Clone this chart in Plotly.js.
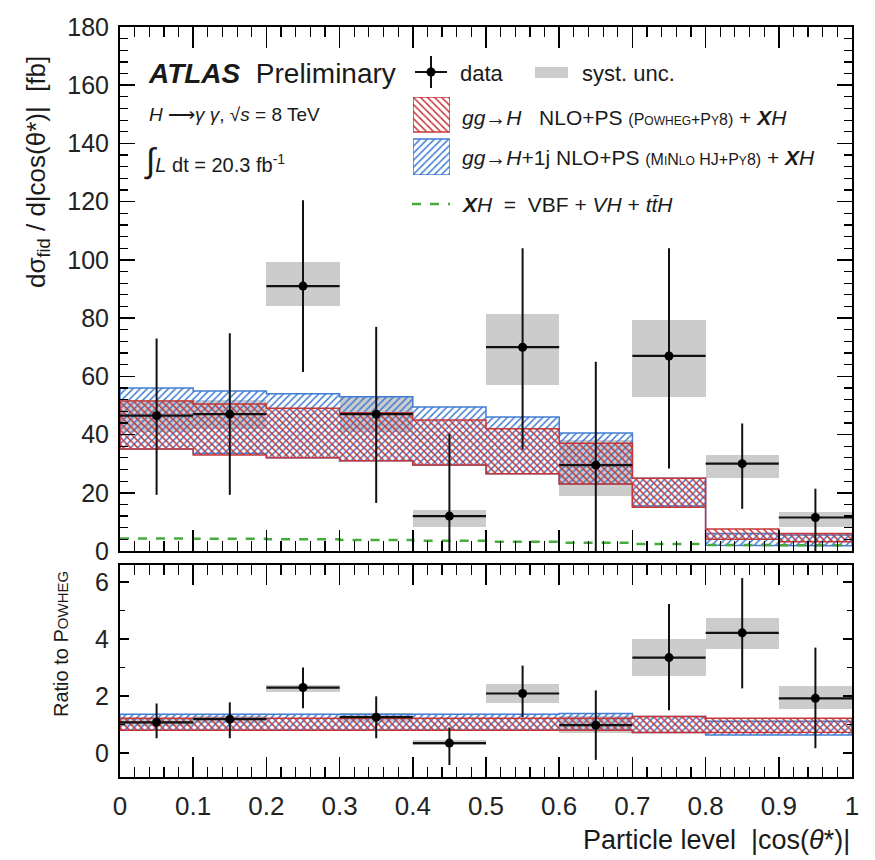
<!DOCTYPE html>
<html><head><meta charset="utf-8">
<script src="https://cdn.plot.ly/plotly-3.0.1.min.js"></script>
<style>html,body{margin:0;padding:0;background:#fff}#chart{width:875px;height:860px}</style>
</head><body><div id="chart"></div>
<script>
// ---------------- data ----------------
const binEdges   = [0, 0.1, 0.2, 0.3, 0.4, 0.5, 0.6, 0.7, 0.8, 0.9, 1.0];
const binCenters = [0.05, 0.15, 0.25, 0.35, 0.45, 0.55, 0.65, 0.75, 0.85, 0.95];
const binHalfWidth = 0.05;

// top panel: dsigma/d|cos(theta*)| [fb]
const dataVal = [46.5, 47, 91, 47, 12, 70, 29.5, 67, 30, 11.5];
const dataHi  = [73, 74.8, 120.5, 77, 40.3, 104, 65, 104, 43.8, 21.4];
const dataLo  = [19.3, 19.3, 61.5, 16.5, 0, 34.8, 0, 28.3, 14.5, 0];
const systLo  = [41, 42, 84.2, 41, 8.3, 57, 19, 53, 25, 8.3];
const systHi  = [52, 52, 99.3, 53, 14, 81.5, 38, 79.5, 33, 13.5];

const powhegHi = [51.5, 50.5, 49, 47.5, 45, 42, 37, 25, 7.6, 6];
const powhegLo = [35, 33, 32, 31, 29.5, 26.5, 23, 15, 4, 3.2];
const minloHi  = [56, 55, 54, 53, 49.5, 46, 40.5, 25, 6, 5.5];
const minloLo  = [35, 33.5, 32, 31, 29.5, 26.5, 23, 15.5, 2, 1.8];
const xhVal    = [4.3, 4.2, 4.0, 3.8, 3.5, 3.2, 2.8, 2.4, 2.1, 2.0];

// ratio panel
const ratioVal    = [1.08, 1.19, 2.3, 1.26, 0.35, 2.09, 0.98, 3.35, 4.22, 1.92];
const ratioHi     = [1.74, 1.78, 3.0, 1.99, 0.9, 3.07, 2.2, 5.23, 6.14, 3.7];
const ratioLo     = [0.52, 0.52, 1.57, 0.52, -0.42, 1.26, -0.24, 1.5, 2.27, 0.17];
const ratioSystLo = [0.95, 1.05, 2.15, 1.1, 0.28, 1.74, 0.7, 2.72, 3.66, 1.53];
const ratioSystHi = [1.2, 1.3, 2.4, 1.4, 0.45, 2.44, 1.3, 4.0, 4.74, 2.34];
const ratioPowhegHi = [1.22, 1.22, 1.22, 1.22, 1.22, 1.22, 1.22, 1.28, 1.22, 1.22];
const ratioPowhegLo = [0.8, 0.8, 0.8, 0.8, 0.8, 0.8, 0.8, 0.72, 0.73, 0.73];
const ratioMinloHi  = [1.36, 1.36, 1.36, 1.36, 1.36, 1.36, 1.39, 1.28, 1.12, 1.12];
const ratioMinloLo  = [0.8, 0.8, 0.8, 0.8, 0.8, 0.8, 0.8, 0.72, 0.63, 0.63];

// ---------------- styles ----------------
const RED = 'rgb(200,55,55)';
const BLUE = 'rgb(65,125,210)';
const GREEN = 'rgb(70,170,60)';
const GREY = 'rgb(204,204,204)';
const FONT = 'Liberation Sans, Arial, Helvetica, sans-serif';

function stepPolygon(hi, lo) {
  const xs = [], ys = [];
  for (let i = 0; i < hi.length; i++) { xs.push(binEdges[i], binEdges[i+1]); ys.push(hi[i], hi[i]); }
  for (let i = lo.length - 1; i >= 0; i--) { xs.push(binEdges[i+1], binEdges[i]); ys.push(lo[i], lo[i]); }
  xs.push(xs[0]); ys.push(ys[0]);
  return {x: xs, y: ys};
}
function bandTrace(hi, lo, color, shape, xa, ya, name) {
  const p = stepPolygon(hi, lo);
  return {type:'scatter', mode:'lines', x:p.x, y:p.y, xaxis:xa, yaxis:ya, name:name,
    fill:'toself', fillcolor:'rgba(0,0,0,0)',
    fillpattern:{shape:shape, fgcolor:color, bgcolor:'rgba(0,0,0,0)', size:5, solidity:0.3},
    line:{color:color, width:1.5}, hoverinfo:'skip', showlegend:false};
}
function systTrace(lo, hi, xa, ya) {
  return {type:'bar', x:binCenters, base:lo, y:hi.map((h,i)=>h-lo[i]), width:binCenters.map(()=>2*binHalfWidth),
    xaxis:xa, yaxis:ya, marker:{color:GREY, line:{width:0}}, showlegend:false, hoverinfo:'skip'};
}
function dataTrace(val, hi, lo, xa, ya) {
  return {type:'scatter', mode:'markers', x:binCenters, y:val, xaxis:xa, yaxis:ya,
    marker:{color:'#000', size:9},
    error_y:{type:'data', symmetric:false, array:hi.map((h,i)=>h-val[i]), arrayminus:val.map((v,i)=>v-lo[i]), width:0, thickness:2, color:'#111'},
    error_x:{type:'constant', value:binHalfWidth, width:0, thickness:2.2, color:'#111'},
    showlegend:false, hoverinfo:'skip'};
}

const xhLine = {type:'scatter', mode:'lines', x:binEdges, y:xhVal.concat([xhVal[xhVal.length-1]]),
  line:{shape:'hv', color:GREEN, width:2.5, dash:'dash'}, xaxis:'x', yaxis:'y', showlegend:false, hoverinfo:'skip'};

// legend swatches (drawn in a hidden helper axis so the hatch patterns match the bands)
const swatchBoxes = {redY:[0.55, 1.0], blueY:[0.0, 0.46]};
function swatch(yr, color, shape) {
  return {type:'scatter', mode:'lines', x:[0,1,1,0,0], y:[yr[0],yr[0],yr[1],yr[1],yr[0]], xaxis:'x3', yaxis:'y3',
    fill:'toself', fillcolor:'rgba(0,0,0,0)',
    fillpattern:{shape:shape, fgcolor:color, bgcolor:'rgba(0,0,0,0)', size:5, solidity:0.3},
    line:{color:color, width:1.5}, showlegend:false, hoverinfo:'skip'};
}

const traces = [
  systTrace(systLo, systHi, 'x', 'y'),
  systTrace(ratioSystLo, ratioSystHi, 'x2', 'y2'),
  bandTrace(minloHi, minloLo, BLUE, '/', 'x', 'y', 'MiNLO'),
  bandTrace(powhegHi, powhegLo, RED, '\\', 'x', 'y', 'Powheg'),
  xhLine,
  bandTrace(ratioMinloHi, ratioMinloLo, BLUE, '/', 'x2', 'y2', 'MiNLO ratio'),
  bandTrace(ratioPowhegHi, ratioPowhegLo, RED, '\\', 'x2', 'y2', 'Powheg ratio'),
  dataTrace(dataVal, dataHi, dataLo, 'x', 'y'),
  dataTrace(ratioVal, ratioHi, ratioLo, 'x2', 'y2'),
  swatch(swatchBoxes.redY, RED, '\\'),
  swatch(swatchBoxes.blueY, BLUE, '/')
];

// ---------------- layout ----------------
const L = 120, R = 852, T = 27, B = 777, W = 875, H = 860;
const px = x => (x - L) / (R - L);
const py = y => (B - y) / (B - T);

function axisBase(fs) {
  return {showline:true, linewidth:2, linecolor:'#000', mirror:'allticks', ticks:'inside', tickwidth:1.5,
    tickcolor:'#000', showgrid:false, zeroline:false, fixedrange:true,
    tickfont:{family:FONT, size:fs, color:'#222'}};
}
const xaxis = Object.assign(axisBase(24), {domain:[0,1], range:[0,1], anchor:'y', dtick:0.1, tick0:0, ticklen:21,
  showticklabels:false, minor:{dtick:0.02, ticklen:10, tickwidth:1.2, tickcolor:'#000', ticks:'inside'}});
const yaxis = Object.assign(axisBase(25), {domain:[py(551),1], range:[0,180], anchor:'x', dtick:20, tick0:0, ticklen:15,
  ticklabelstandoff:4, minor:{dtick:4, ticklen:8, tickwidth:1.2, tickcolor:'#000', ticks:'inside'}});
const xaxis2 = Object.assign(axisBase(26), {domain:[0,1], range:[0,1], anchor:'y2', dtick:0.1, tick0:0, ticklen:20,
  ticklabelstandoff:5, minor:{dtick:0.02, ticklen:10, tickwidth:1.2, tickcolor:'#000', ticks:'inside'}});
const yaxis2 = Object.assign(axisBase(25), {domain:[0,py(565)], range:[-0.84,6.6], anchor:'x2', dtick:2, tick0:0, ticklen:9,
  ticklabelstandoff:4, minor:{dtick:1, ticklen:5, tickwidth:1.2, tickcolor:'#000', ticks:'inside'}});
const xaxis3 = {domain:[px(413), px(450)], range:[0,1], anchor:'y3', visible:false, fixedrange:true};
const yaxis3 = {domain:[py(175), py(97)], range:[0,1], anchor:'x3', visible:false, fixedrange:true};

function ann(x, y, text, size, opts) {
  return Object.assign({xref:'paper', yref:'paper', x:px(x), y:py(y), text:text, showarrow:false,
    xanchor:'left', yanchor:'middle', font:{family:FONT, size:size, color:'#1a1a1a'}}, opts || {});
}
const NB = '\u00a0';
const sc = (s, n) => `<span style="font-size:${n}px">${s}</span>`;
const XH = '<b><i>X</i></b><i>H</i>';

const annotations = [
  ann(146, 74, `<b><i>ATLAS</i></b>${NB}${NB}Preliminary`, 28),
  ann(147, 114, `<i>H</i>${NB}⟶<i>γ</i>${NB}<i>γ</i>, √<i>s</i> = 8 TeV`, 19),
  ann(142, 160, `${sc('∫', 34)}<i>L</i> dt = 20.3 fb<sup>-1</sup>`, 20),
  ann(458, 74, 'data', 22),
  ann(580, 73, 'syst. unc.', 22),
  ann(460, 117, `<i>gg</i>→<i>H</i>${NB}${NB}${NB}NLO+PS ${sc('(P' + sc('OWHEG', 12) + '+P' + sc('Y', 12) + '8)', 16)} + ${XH}`, 21),
  ann(460, 158, `<i>gg</i>→<i>H</i>+1j NLO+PS ${sc('(M' + sc('I', 12) + 'N' + sc('LO', 12) + ' HJ+P' + sc('Y', 12) + '8)', 16)} + ${XH}`, 21),
  ann(460, 205, `${XH}${NB}${NB}=${NB}${NB}VBF + <i>VH</i> + <i>tt\u0304H</i>`, 21),
  ann(37, 172, `dσ<sub>fid</sub> / d|cos(θ*)|${NB}${NB}[fb]`, 26, {xanchor:'center', textangle:-90}),
  ann(61, 644, `Ratio to P${sc('OWHEG', 15)}`, 20, {xanchor:'center', textangle:-90}),
  ann(852, 840, `Particle level${NB}${NB}|cos(<i>θ</i>*)|`, 27, {xanchor:'right'})
];

const shapes = [
  // data legend cross
  {type:'line', xref:'paper', yref:'paper', x0:px(415), x1:px(447), y0:py(72), y1:py(72), line:{color:'#111', width:2}},
  {type:'line', xref:'paper', yref:'paper', x0:px(431), x1:px(431), y0:py(56), y1:py(88), line:{color:'#111', width:2}},
  {type:'circle', xref:'paper', yref:'paper', x0:px(426.5), x1:px(435.5), y0:py(76.5), y1:py(67.5), fillcolor:'#000', line:{color:'#000', width:0}},
  // syst legend box
  {type:'rect', xref:'paper', yref:'paper', x0:px(535), x1:px(568), y0:py(78), y1:py(67), fillcolor:GREY, line:{width:0}},
  // XH legend dashed line
  {type:'line', xref:'paper', yref:'paper', x0:px(412), x1:px(450), y0:py(204), y1:py(204), line:{color:GREEN, width:2.5, dash:'dash'}}
];

const layout = {
  width:W, height:H, margin:{l:L, r:W-R, t:T, b:H-B}, paper_bgcolor:'#fff', plot_bgcolor:'rgba(0,0,0,0)',
  showlegend:false, barmode:'overlay', bargap:0,
  font:{family:FONT, color:'#222'},
  xaxis:xaxis, yaxis:yaxis, xaxis2:xaxis2, yaxis2:yaxis2, xaxis3:xaxis3, yaxis3:yaxis3,
  annotations:annotations, shapes:shapes
};

Plotly.newPlot('chart', traces, layout, {staticPlot:true, displayModeBar:false});
</script>
</body></html>
